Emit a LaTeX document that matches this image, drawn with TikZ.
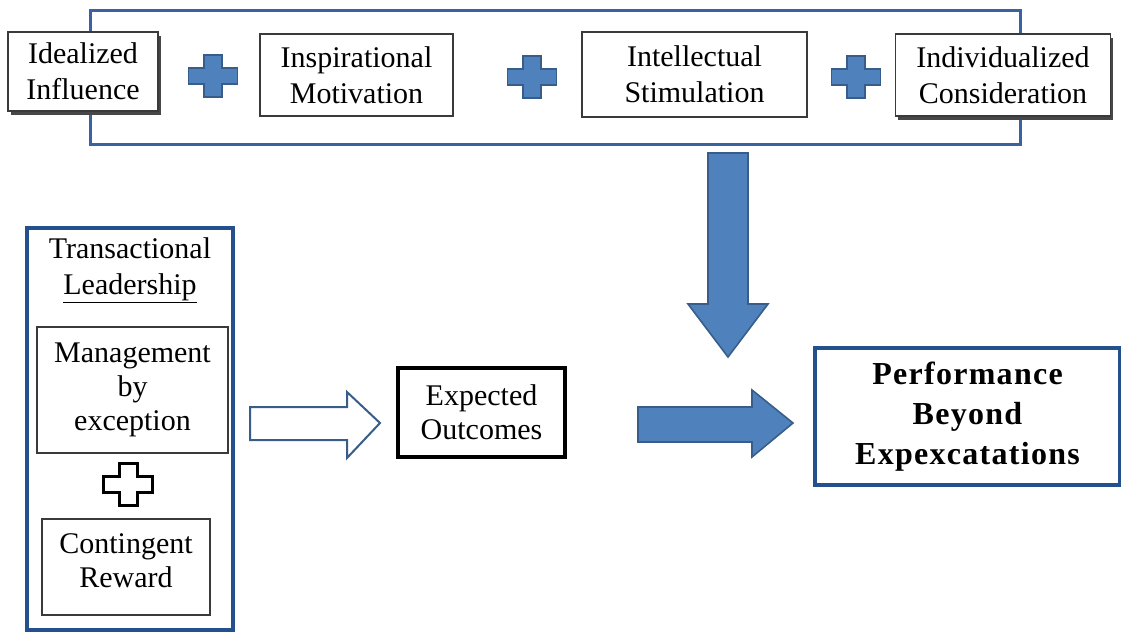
\documentclass[tikz,border=0pt]{standalone}
\usepackage{fontspec}
\setmainfont{Liberation Serif}
\usetikzlibrary{shadows}
\definecolor{plusblue}{HTML}{4F81BD}
\definecolor{plusedge}{HTML}{385D8A}
\definecolor{frameblue}{HTML}{3A62A0}
\definecolor{deepblue}{HTML}{24508E}
\definecolor{boxedge}{HTML}{3A3A3A}
\begin{document}
\begin{tikzpicture}[x=1pt,y=-1pt,
  txt/.style={font=\fontsize{30}{36}\selectfont, align=center, inner sep=0pt},
  card/.style={txt, rectangle, draw=boxedge, line width=1.3pt, fill=white},
  shadowcard/.style={card, general shadow={fill=black!72, shadow xshift=2.5pt, shadow yshift=-3.5pt}},
  blueframe/.style={rectangle, draw=frameblue, line width=3pt, inner sep=0pt},
  deepframe/.style={rectangle, draw=deepblue, line width=3.8pt, inner sep=0pt},
  blueblock/.style={fill=plusblue, draw=plusedge, line width=1.6pt, line join=miter},
  hollowblock/.style={fill=white, draw=plusedge, line width=2pt, line join=miter},
  plusmark/.pic={
    \path[pic actions] (-24.5,-8) -- (-9,-8) -- (-9,-21) -- (9,-21) -- (9,-8) -- (24.5,-8)
      -- (24.5,8) -- (9,8) -- (9,21) -- (-9,21) -- (-9,8) -- (-24.5,8) -- cycle;
  }
]
\useasboundingbox (0,0) rectangle (1121,632);

% transformational factors
\node[blueframe, minimum width=930pt, minimum height=134pt] (frame) at (555,77) {};
\node[shadowcard, minimum width=150pt, minimum height=79pt] (ideal) at (83,71.5) {Idealized\\Influence};
\pic[blueblock] (plusa) at (213,76) {plusmark};
\node[card, minimum width=193pt, minimum height=82pt] (inspire) at (356.5,75) {Inspirational\\Motivation};
\pic[blueblock] (plusb) at (532,77) {plusmark};
\node[card, minimum width=225pt, minimum height=85pt] (intel) at (694.5,74.5) {Intellectual\\Stimulation};
\pic[blueblock] (plusc) at (856,77) {plusmark};
\node[shadowcard, minimum width=215pt, minimum height=82pt] (indiv) at (1003,75) {Individualized\\Consideration};

% transactional leadership
\node[deepframe, minimum width=206pt, minimum height=402pt] (trans) at (130,429) {};
\node[txt] (transhead) at (130,270) {Transactional\\\underline{Leadership}};
\node[card, font=\fontsize{30}{34}\selectfont, minimum width=191pt, minimum height=126pt] (mbe) at (132.5,390) {Management\\by\\exception};
\pic[fill=white, draw=black, line width=3pt, line join=miter] (plusd) at (128,484) {plusmark};
\node[card, font=\fontsize{30}{34}\selectfont, minimum width=168pt, minimum height=96pt] (reward) at (126,567) {Contingent\\Reward\\[-22pt]\mbox{}};

% outcomes
\node[card, draw=black, line width=3.5pt, font=\fontsize{30}{34}\selectfont, minimum width=167pt, minimum height=89pt] (expect) at (481.5,412.5) {Expected\\Outcomes};
\node[deepframe, line width=3.5pt, font=\bfseries\fontsize{32}{40}\selectfont\addfontfeature{LetterSpace=4}, align=center, minimum width=305pt, minimum height=137pt] (perf) at (967.5,416.5) {Performance\\Beyond\\Expexcatations};

% block arrows
\path[hollowblock] (250,407) -- (347,407) -- (347,392) -- (380,423) -- (347,458) -- (347,440) -- (250,440) -- cycle;
\path[blueblock] (708,153) -- (748,153) -- (748,304) -- (768,304) -- (728,357) -- (688,304) -- (708,304) -- cycle;
\path[blueblock] (638,407) -- (752,407) -- (752,390) -- (793,423) -- (752,457) -- (752,442) -- (638,442) -- cycle;
\end{tikzpicture}
\end{document}
